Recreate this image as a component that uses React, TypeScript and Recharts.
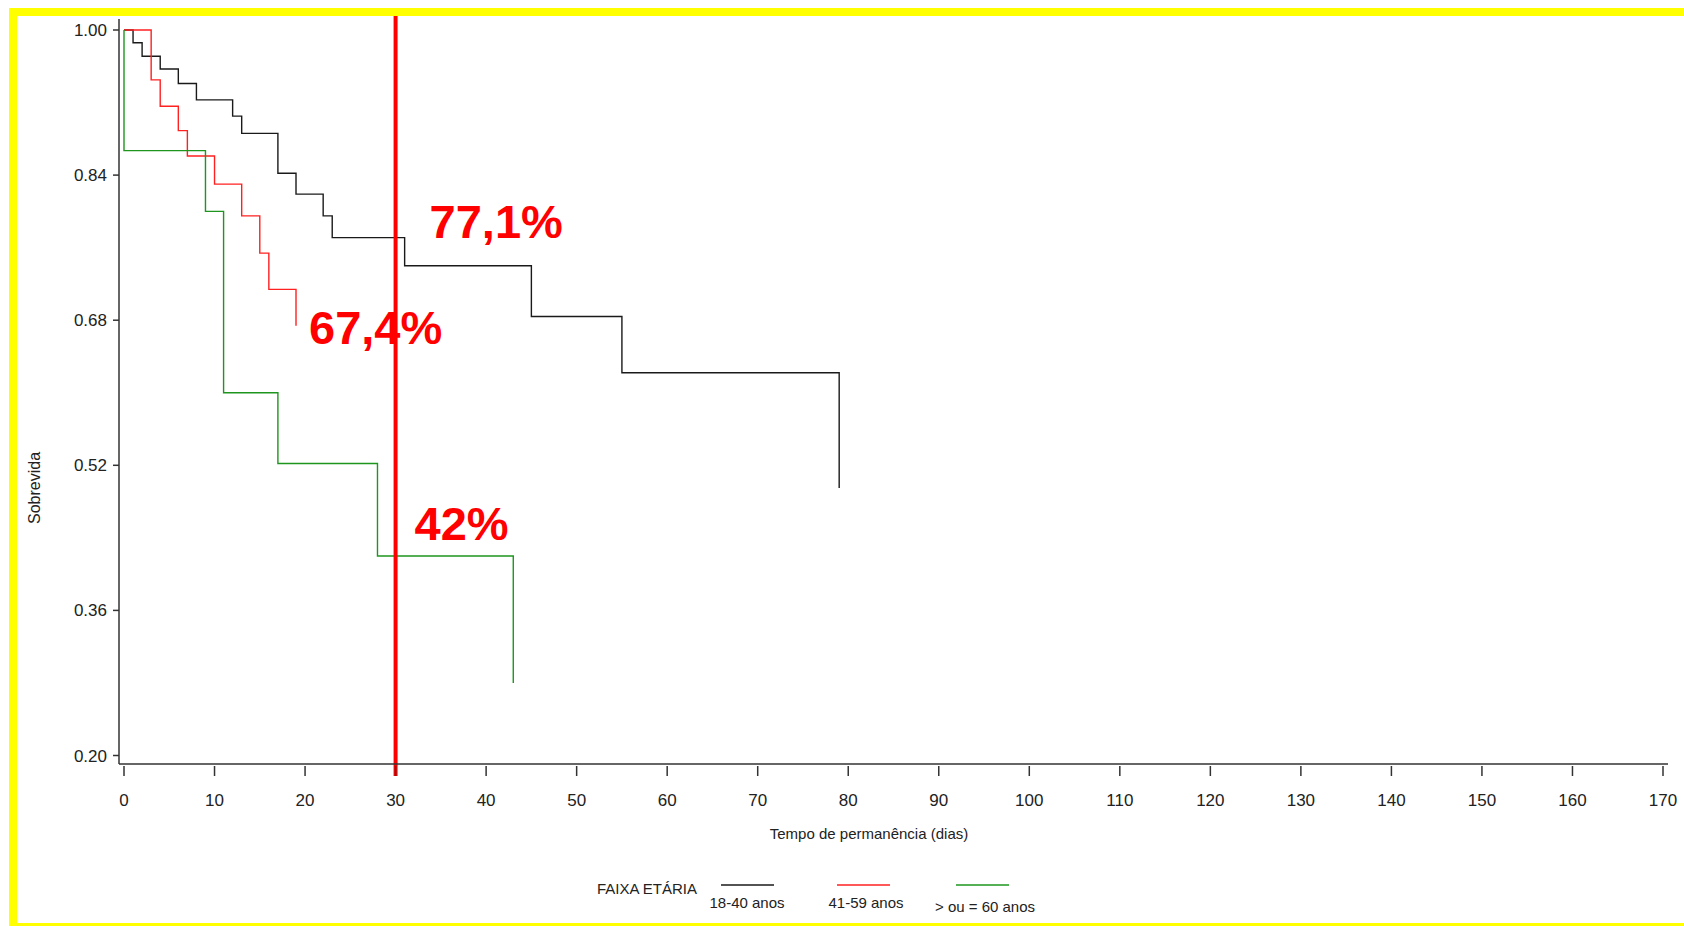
import React from "react";
import { LineChart, Line, XAxis, YAxis, ReferenceLine, ReferenceDot } from "recharts";

// Kaplan-Meier survival by age band (day of stay, survival)
const youngDays = [0, 1, 2, 4, 6, 8, 12, 13, 17, 19, 22, 23, 31, 45, 55, 79];
const youngSurv = [1.0, 0.986, 0.971, 0.957, 0.941, 0.923, 0.905, 0.886, 0.842, 0.819, 0.795, 0.771, 0.74, 0.684, 0.622, 0.495];

const middleDays = [0, 3, 4, 6, 7, 10, 13, 15, 16, 19];
const middleSurv = [1.0, 0.945, 0.916, 0.889, 0.861, 0.83, 0.795, 0.754, 0.714, 0.674];

const olderDays = [0, 0, 9, 11, 17, 28, 43];
const olderSurv = [1.0, 0.867, 0.8, 0.6, 0.522, 0.42, 0.28];

const seriesNames = ["18-40 anos", "41-59 anos", "> ou = 60 anos"];
const seriesColors = ["#1a1a1a", "#ff2020", "#1e961e"];

const xTicks = [0, 10, 20, 30, 40, 50, 60, 70, 80, 90, 100, 110, 120, 130, 140, 150, 160, 170];
const yTicks = [0.2, 0.36, 0.52, 0.68, 0.84, 1.0];

const cutoffDay = 30;
// survival read at the cutoff for each band: [day, value]
const cutoffPoints = [
  [30, 0.771],
  [19, 0.674],
  [30, 0.42],
];

const toRows = (days: number[], surv: number[]) => days.map((t, i) => ({ t, s: surv[i] }));
const series = [
  toRows(youngDays, youngSurv),
  toRows(middleDays, middleSurv),
  toRows(olderDays, olderSurv),
];

const pct = (v: number) => `${+(v * 100).toFixed(1)}`.replace(".", ",") + "%";

const FONT = "'Liberation Sans', Arial, sans-serif";
const AXIS = "#333";

const XTick = ({ x, y, payload }: any) => (
  <g>
    <line x1={x} x2={x} y1={y + 2} y2={y + 12} stroke={AXIS} strokeWidth={1.5} />
    <text x={x} y={y + 42} textAnchor="middle" fontSize={17} fontFamily={FONT} fill="#222">
      {payload.value}
    </text>
  </g>
);

// where each percentage sits relative to its point
const labelOffsets = [
  [34, 0],
  [13, 18],
  [19, -16],
];

export default function App() {
  return (
    <div style={{ position: "absolute", left: 0, top: 0, width: 1684, height: 926, background: "#fff", overflow: "hidden" }}>
      <div style={{ position: "absolute", left: 0, top: 0 }}>
        <LineChart width={1684} height={926} margin={{ top: 19, right: 16, left: 0, bottom: 102 }}>
          <XAxis
            dataKey="t"
            type="number"
            domain={[0, 170]}
            ticks={xTicks}
            interval={0}
            padding={{ left: 5, right: 5 }}
            height={60}
            axisLine={{ stroke: AXIS, strokeWidth: 1.5 }}
            tickLine={false}
            tickSize={0}
            tickMargin={0}
            tick={<XTick />}
            label={{
              content: (p: any) => (
                <text x={p.viewBox.x + 750} y={p.viewBox.y + 75} textAnchor="middle" fontSize={15} fontFamily={FONT} fill="#222">
                  Tempo de permanência (dias)
                </text>
              ),
            }}
          />
          <XAxis xAxisId="top" orientation="top" dataKey="t" type="number" domain={[0, 170]} height={0} tick={false} tickLine={false} axisLine={{ stroke: AXIS, strokeWidth: 1.5 }} />
          <YAxis
            type="number"
            domain={[0.2, 1.0]}
            ticks={yTicks}
            interval={0}
            width={119}
            padding={{ top: 11, bottom: 8.5 }}
            tickFormatter={(v: number) => v.toFixed(2)}
            tick={{ fontSize: 17, fontFamily: FONT, fill: "#222" }}
            tickSize={6}
            tickMargin={6}
            tickLine={{ stroke: AXIS, strokeWidth: 1.5 }}
            axisLine={{ stroke: AXIS, strokeWidth: 1.5 }}
            label={{
              content: (p: any) => {
                const cx = p.viewBox.x + 34;
                const cy = p.viewBox.y + 469;
                return (
                  <text x={cx} y={cy} transform={`rotate(-90 ${cx} ${cy})`} textAnchor="middle" dominantBaseline="central" fontSize={16} fontFamily={FONT} fill="#222">
                    Sobrevida
                  </text>
                );
              },
            }}
          />
          <YAxis yAxisId="right" orientation="right" type="number" domain={[0.2, 1.0]} width={0} tick={false} tickLine={false} axisLine={{ stroke: AXIS, strokeWidth: 1.5 }} />

          {series.map((rows, i) => (
            <Line
              key={seriesNames[i]}
              data={rows}
              dataKey="s"
              name={seriesNames[i]}
              type="stepAfter"
              stroke={seriesColors[i]}
              strokeWidth={1.4}
              dot={false}
              activeDot={false}
              isAnimationActive={false}
            />
          ))}

          <ReferenceLine
            segment={[
              { x: cutoffDay, y: 1.0154 },
              { x: cutoffDay, y: 0.1774 },
            ]}
            ifOverflow="visible"
            stroke="#ff0000"
            strokeWidth={4}
          />

          {cutoffPoints.map(([day, v], i) => (
            <ReferenceDot
              key={i}
              x={day}
              y={v}
              r={0}
              fill="none"
              stroke="none"
              label={{
                content: (p: any) => (
                  <text
                    x={p.viewBox.x + labelOffsets[i][0]}
                    y={p.viewBox.y + labelOffsets[i][1]}
                    fontSize={47}
                    fontWeight="bold"
                    fontFamily={FONT}
                    fill="#ff0000"
                  >
                    {pct(v)}
                  </text>
                ),
              }}
            />
          ))}
        </LineChart>
      </div>

      <svg width={1684} height={926} style={{ position: "absolute", left: 0, top: 0, pointerEvents: "none" }}>
        <text x={597} y={894} fontSize={15} fontFamily={FONT} fill="#222">
          FAIXA ETÁRIA
        </text>
        {seriesNames.map((name, i) => {
          const lineX = [721, 837, 956][i];
          const textX = [747, 866, 985][i];
          const textY = [908, 908, 912][i];
          return (
            <g key={name}>
              <line x1={lineX} x2={lineX + 53} y1={885} y2={885} stroke={seriesColors[i]} strokeWidth={1.5} />
              <text x={textX} y={textY} textAnchor="middle" fontSize={15} fontFamily={FONT} fill="#222">
                {name}
              </text>
            </g>
          );
        })}
      </svg>

      <div style={{ position: "absolute", left: 9, top: 8, width: 8, height: 918, background: "#ffff00" }} />
      <div style={{ position: "absolute", left: 9, top: 8, width: 1675, height: 8, background: "#ffff00" }} />
      <div style={{ position: "absolute", left: 9, top: 923, width: 1675, height: 3, background: "#ffff00" }} />
    </div>
  );
}
